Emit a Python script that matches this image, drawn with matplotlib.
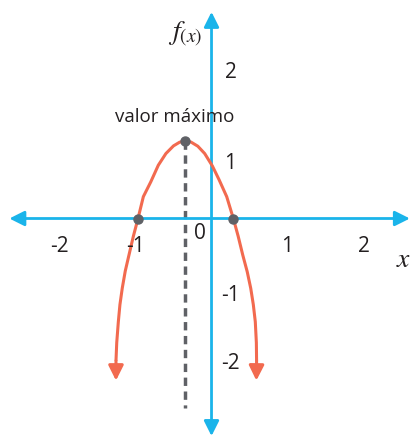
import matplotlib.pyplot as plt
import numpy as np

# curve (x, f(x))
left_x = [-1.257, -1.247, -1.226, -1.205, -1.174, -1.135, -1.086, -1.03, -0.967, -0.897, -0.80, -0.70, -0.60, -0.50, -0.42, -0.345]
left_y = [-1.95, -1.70, -1.414, -1.18, -0.952, -0.72, -0.50, -0.25, 0.0, 0.299, 0.50, 0.73, 0.89, 0.995, 1.045, 1.062]
right_x = [-0.345, -0.27, -0.18, -0.09, 0.011, 0.10, 0.20, 0.287, 0.35, 0.411, 0.47, 0.516, 0.55, 0.576, 0.59, 0.593]
right_y = [1.062, 1.047, 0.99, 0.89, 0.72, 0.53, 0.299, 0.0, -0.24, -0.50, -0.73, -0.956, -1.18, -1.414, -1.70, -1.95]
tips_x = [-1.257, 0.590]
tips_y = [-2.22, -2.22]

vertex = (-0.345, 1.062)
roots = [-0.967, 0.287]

xticks = [-2, -1, 1, 2]
yticks = [2, 1, -1, -2]
ytick_pos = [2.0, 0.76, -1.05, -1.98]

blue = '#1ab4ea'
red = '#f26a4f'
gray = '#5f6166'
ink = '#231f20'

plt.rcParams['mathtext.fontset'] = 'stix'
fig = plt.figure(figsize=(4.13, 4.37), dpi=100)
ax = fig.add_axes([0, 0, 1, 1])
ax.set_xlim(-2.783, 2.651)
ax.set_ylim(-2.993, 2.993)
ax.axis('off')

# axes with arrows
ax.annotate('', xy=(2.61, 0), xytext=(-2.66, 0),
            arrowprops=dict(arrowstyle='<|-|>,head_length=0.9,head_width=0.45', color=blue, lw=2, shrinkA=0, shrinkB=0))
ax.annotate('', xy=(0, 2.83), xytext=(0, -2.98),
            arrowprops=dict(arrowstyle='<|-|>,head_length=0.9,head_width=0.45', color=blue, lw=2, shrinkA=0, shrinkB=0))

# dashed line from vertex
ax.plot([vertex[0], vertex[0]], [vertex[1], -2.6], color=gray, lw=2.5, ls=(0, (2.4, 1.6)), zorder=2)

# curve
ax.plot(left_x, left_y, color=red, lw=2.2, solid_capstyle='butt', zorder=3)
ax.plot(right_x, right_y, color=red, lw=2.2, solid_capstyle='butt', zorder=3)
for xs, ys, tx, ty in [(left_x, left_y, tips_x[0], tips_y[0]), (right_x, right_y, tips_x[1], tips_y[1])]:
    ax.annotate('', xy=(tx, ty), xytext=(xs[0] if ys[0] < 0 else xs[-1], min(ys[0], ys[-1])),
                arrowprops=dict(arrowstyle='-|>,head_length=0.9,head_width=0.45', color=red, lw=2.2, shrinkA=0, shrinkB=0), zorder=3)

# points
ax.plot([vertex[0]] + roots, [vertex[1], 0, 0], 'o', color=gray, ms=6.5, zorder=4)

# labels
for v in xticks:
    ax.text(v, -0.39, str(v), ha='center', va='center', fontsize=15, color=ink, family='Open Sans')
ax.text(-0.15, -0.2, '0', ha='center', va='center', fontsize=15, color=ink, family='Open Sans')
for v, p in zip(yticks, ytick_pos):
    ax.text(0.25, p, str(v), ha='center', va='center', fontsize=15, color=ink, family='Open Sans')
ax.text(-0.478, 1.39, 'valor máximo', ha='center', va='center', fontsize=13.5, color=ink, family='Open Sans')
ax.text(-0.35, 2.52, r'$f_{(x)}$', ha='center', va='center', fontsize=20, color=ink)
ax.text(2.53, -0.56, r'$x$', ha='center', va='center', fontsize=20, color=ink)

fig.savefig('out.png', dpi=100)
